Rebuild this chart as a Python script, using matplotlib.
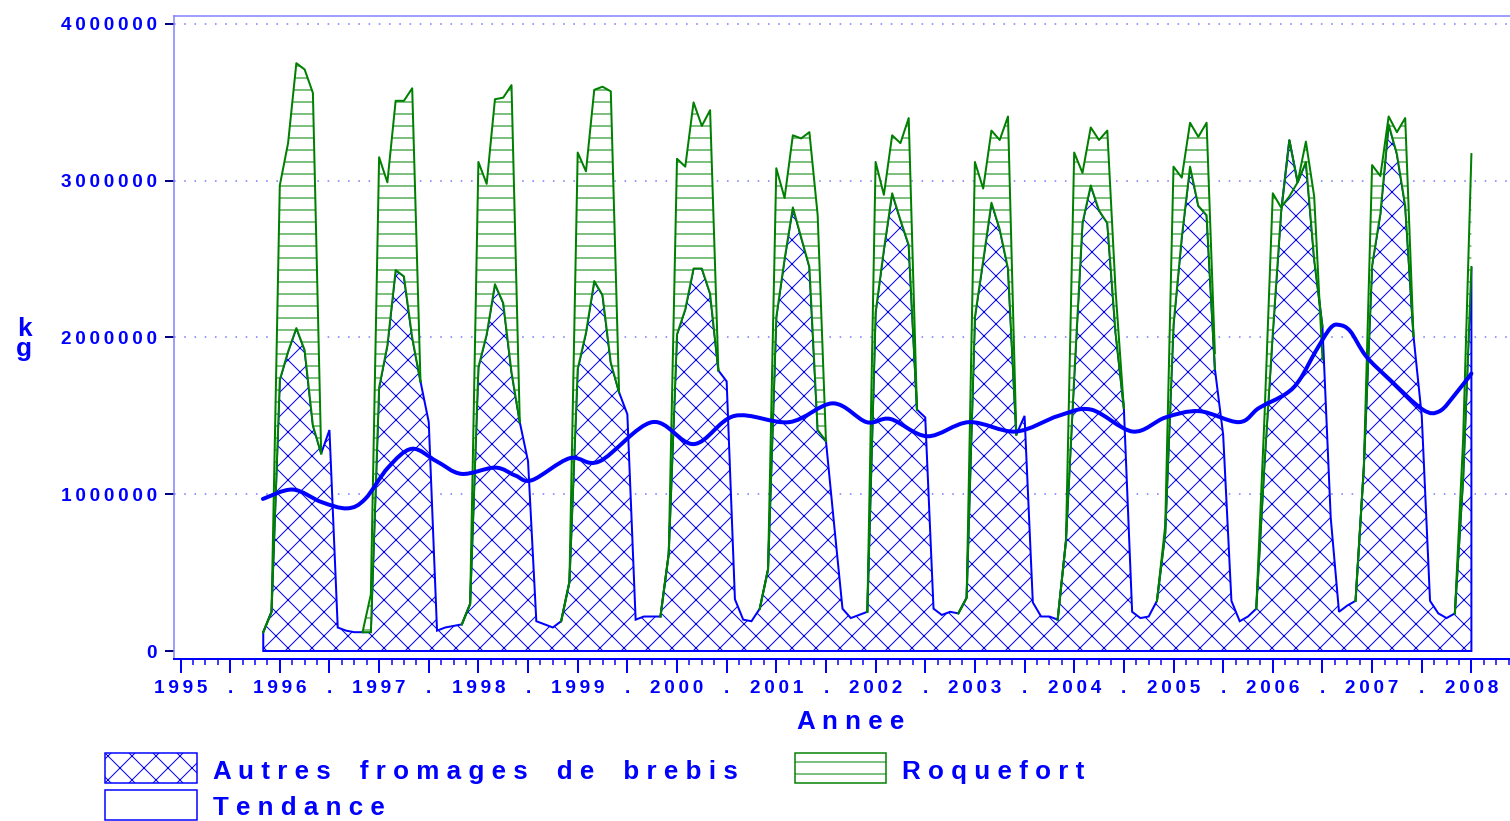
import numpy as np
import matplotlib
matplotlib.use("Agg")
import matplotlib.pyplot as plt
from matplotlib.patches import Rectangle, PathPatch
from matplotlib.path import Path
from matplotlib.ticker import FixedLocator, FuncFormatter

plt.rcParams["font.family"] = ["Liberation Sans", "DejaVu Sans"]
plt.rcParams["font.weight"] = "bold"
plt.rcParams["hatch.linewidth"] = 1.0

# monthly series, first month = novembre 1995
start = 1995 + 10 / 12

autres = [
    120000, 250000,
    1730000, 1910000, 2060000, 1920000, 1440000, 1260000, 1410000, 150000, 130000, 120000, 120000, 120000,
    1680000, 1950000, 2430000, 2390000, 2000000, 1720000, 1460000, 130000, 150000, 160000, 170000, 300000,
    1810000, 2020000, 2340000, 2220000, 1780000, 1460000, 1210000, 190000, 170000, 150000, 190000, 440000,
    1800000, 2030000, 2360000, 2270000, 1840000, 1650000, 1510000, 200000, 220000, 220000, 220000, 620000,
    2020000, 2180000, 2440000, 2440000, 2280000, 1790000, 1720000, 330000, 200000, 190000, 270000, 520000,
    2130000, 2500000, 2830000, 2640000, 2450000, 1410000, 1340000, 800000, 270000, 210000, 230000, 250000,
    2160000, 2560000, 2920000, 2750000, 2590000, 1540000, 1490000, 270000, 230000, 250000, 240000, 340000,
    2130000, 2490000, 2860000, 2690000, 2440000, 1380000, 1500000, 310000, 220000, 220000, 200000, 700000,
    1750000, 2730000, 2970000, 2810000, 2730000, 2030000, 1550000, 250000, 210000, 220000, 320000, 750000,
    2080000, 2640000, 3090000, 2840000, 2780000, 1800000, 1380000, 320000, 190000, 220000, 270000, 1200000,
    2030000, 2800000, 3260000, 2990000, 3120000, 2500000, 2070000, 850000, 250000, 290000, 320000, 1170000,
    2460000, 2790000, 3360000, 3170000, 2840000, 2010000, 1500000, 320000, 240000, 210000, 240000, 1100000,
    2450000,
]

roquefort = [
    120000, 250000,
    2970000, 3240000, 3750000, 3710000, 3560000, 1260000, None, None, None, None, 120000, 360000,
    3150000, 2990000, 3510000, 3510000, 3590000, 1720000, None, None, None, None, 170000, 300000,
    3120000, 2980000, 3520000, 3530000, 3610000, 1460000, None, None, None, None, 190000, 440000,
    3180000, 3060000, 3580000, 3600000, 3570000, 1650000, None, None, None, None, 220000, 620000,
    3140000, 3090000, 3500000, 3350000, 3450000, 1790000, None, None, None, None, 270000, 520000,
    3080000, 2890000, 3290000, 3270000, 3310000, 2780000, 1340000, None, None, None, None, 250000,
    3120000, 2910000, 3290000, 3240000, 3400000, 1540000, None, None, None, None, 240000, 340000,
    3120000, 2950000, 3320000, 3260000, 3410000, 1380000, None, None, None, None, 200000, 700000,
    3180000, 3050000, 3340000, 3260000, 3320000, 2300000, 1550000, None, None, None, 320000, 800000,
    3090000, 3020000, 3370000, 3280000, 3370000, 1900000, None, None, None, None, 270000, 1500000,
    2920000, 2830000, 2900000, 2990000, 3250000, 2900000, 1860000, None, None, None, 320000, 1170000,
    3100000, 3030000, 3410000, 3310000, 3400000, 2010000, None, None, None, None, 240000, 1350000,
    3170000,
]

# tendance (annee decimale, kg)
trend_t = [1995.83, 1996.13, 1996.42, 1996.68, 1996.86, 1997.09, 1997.33, 1997.58, 1997.83,
           1998.17, 1998.37, 1998.54, 1998.92, 1999.22, 1999.75, 2000.17, 2000.58, 2001.13,
           2001.57, 2001.91, 2002.15, 2002.52, 2002.94, 2003.41, 2003.84, 2004.17, 2004.59,
           2004.92, 2005.26, 2005.66, 2005.86, 2006.13, 2006.27, 2006.43, 2006.58, 2006.67,
           2006.78, 2006.94, 2007.18, 2007.51, 2007.68, 2007.84, 2008.00]
trend_v = [970000, 1030000, 950000, 910000, 970000, 1170000, 1290000, 1210000, 1130000,
           1170000, 1120000, 1090000, 1230000, 1210000, 1460000, 1320000, 1500000, 1460000,
           1580000, 1460000, 1480000, 1370000, 1460000, 1400000, 1500000, 1540000, 1400000,
           1490000, 1530000, 1460000, 1550000, 1640000, 1730000, 1910000, 2060000, 2080000,
           2040000, 1880000, 1730000, 1540000, 1530000, 1640000, 1770000]

BLUE = "#0000ff"
GREEN = "#008000"
LIGHT = "#8080ff"
SP = "\u2009"

x = start + np.arange(len(autres)) / 12
a = np.array(autres, dtype=float)
r = np.array([np.nan if v is None else v for v in roquefort], dtype=float)

DPI = 72
fig = plt.figure(figsize=(1510 / DPI, 821 / DPI), dpi=DPI)
ax = fig.add_axes([174 / 1510, 162 / 821, 1336 / 1510, 643 / 821])

px_year = (1471.4 - 180.5) / 13
ax.set_xlim(1995 - 6.5 / px_year, 1995 + (1510 - 180.5) / px_year)
ax.set_ylim(-8 / 156.75 * 1e6, 4e6 + 8 / 156.75 * 1e6)

for v in [1e6, 2e6, 3e6, 4e6]:
    ax.axhline(v, color=LIGHT, lw=1.6, ls=(0, (1, 5.4)), zorder=1)

# autres fromages: area from 0
xs = np.concatenate([[x[0]], x, [x[-1]]])
ys = np.concatenate([[0], a, [0]])
ax.fill(xs, ys, facecolor="white", edgecolor=BLUE, hatch="x", lw=2, zorder=2)

# roquefort band
ax.fill_between(x, a, r, where=r >= a, interpolate=True, facecolor="white",
                edgecolor=GREEN, hatch="-", linewidth=0, zorder=3)
ax.plot(x, r, color=GREEN, lw=2, zorder=4)
ax.plot(x, np.where(np.isnan(r), np.nan, a), color=GREEN, lw=2, zorder=4)

# tendance drawn as a smooth curve through the read points
pts = np.column_stack([trend_t, trend_v])
ext = np.vstack([pts[:1], pts, pts[-1:]])
verts = [tuple(pts[0])]
codes = [Path.MOVETO]
for i in range(len(pts) - 1):
    p0, p1, p2, p3 = ext[i], ext[i + 1], ext[i + 2], ext[i + 3]
    verts += [tuple(p1 + (p2 - p0) / 6), tuple(p2 - (p3 - p1) / 6), tuple(p2)]
    codes += [Path.CURVE4] * 3
ax.add_patch(PathPatch(Path(verts, codes), fill=False, edgecolor=BLUE, lw=4,
                       capstyle="round", joinstyle="round", zorder=6))

# axes
ax.spines["right"].set_visible(False)
for side in ["left", "top"]:
    ax.spines[side].set_color(LIGHT)
    ax.spines[side].set_linewidth(1.5)
ax.spines["bottom"].set_color(BLUE)
ax.spines["bottom"].set_linewidth(2)

ax.set_yticks([0, 1e6, 2e6, 3e6, 4e6])
ax.yaxis.set_major_formatter(FuncFormatter(lambda v, p: SP.join(str(int(round(v))))))
ax.tick_params(axis="y", direction="out", length=9, width=2, color="#000080",
               pad=8, labelsize=19, labelcolor=BLUE)

major = np.arange(1995, 2008.01, 0.5)
ax.xaxis.set_major_locator(FixedLocator(major))
ax.xaxis.set_minor_locator(FixedLocator(np.arange(1995, 2008.4, 0.125)))
ax.set_xticklabels([SP.join(str(int(t))) if t == int(t) else "." for t in major])
ax.tick_params(axis="x", which="major", direction="out", length=14, width=2,
               color=BLUE, pad=7, labelsize=19, labelcolor=BLUE)
ax.tick_params(axis="x", which="minor", direction="out", length=6, width=1.5, color=BLUE)

fig.text(851 / 1510, 1 - 722 / 821, "A n n e e", ha="center", va="center",
         fontsize=26, color=BLUE, fontweight="bold")
fig.text(24 / 1510, 1 - 339 / 821, "k\ng", ha="center", va="center",
         fontsize=26, color=BLUE, fontweight="bold", linespacing=0.8)

# legend
def box(x0, y0, w, h, **kw):
    fig.add_artist(Rectangle((x0 / 1510, 1 - (y0 + h) / 821), w / 1510, h / 821,
                             transform=fig.transFigure, **kw))

box(105, 753, 92, 30, facecolor="white", edgecolor=BLUE, hatch="x", lw=1.5)
box(105, 790, 92, 30, facecolor="white", edgecolor=BLUE, lw=1.5)
box(795, 753, 91, 30, facecolor="white", edgecolor=GREEN, hatch="-", lw=1.5)

fig.text(213 / 1510, 1 - 772 / 821, "A u t r e s    f r o m a g e s    d e    b r e b i s",
         ha="left", va="center", fontsize=26, color=BLUE, fontweight="bold")
fig.text(213 / 1510, 1 - 808 / 821, "T e n d a n c e", ha="left", va="center",
         fontsize=26, color=BLUE, fontweight="bold")
fig.text(902 / 1510, 1 - 772 / 821, "R o q u e f o r t", ha="left", va="center",
         fontsize=26, color=BLUE, fontweight="bold")

fig.savefig("out.png", dpi=DPI)
